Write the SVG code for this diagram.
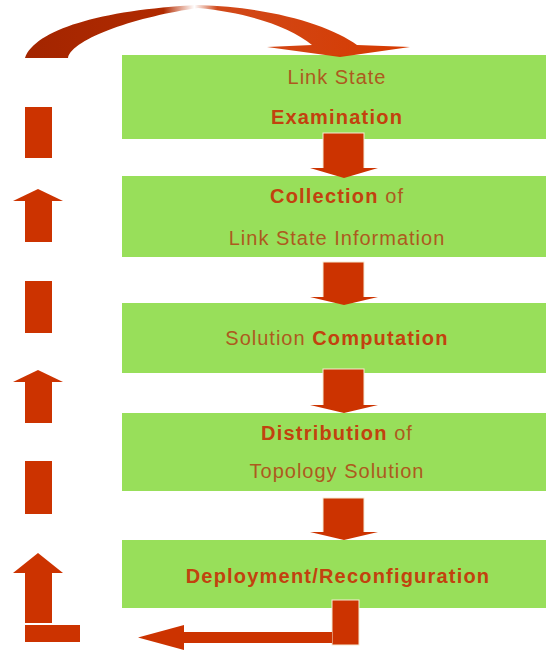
<svg xmlns="http://www.w3.org/2000/svg" width="546" height="651" viewBox="0 0 546 651">
  <defs>
    <linearGradient id="curveGrad" gradientUnits="userSpaceOnUse" x1="25" y1="0" x2="410" y2="0">
      <stop offset="0" stop-color="#a32500" stop-opacity="1"/>
      <stop offset="0.36" stop-color="#b02a00" stop-opacity="1"/>
      <stop offset="0.44" stop-color="#c03000" stop-opacity="0"/>
      <stop offset="0.5" stop-color="#cc3500" stop-opacity="0.9"/>
      <stop offset="1" stop-color="#d63a00" stop-opacity="1"/>
    </linearGradient>
    <style>
      .box { fill: #98df5a; }
      .arrow { fill: #cc3300; }
      .arrowEdge { fill: #cc3300; stroke: #f6ead2; stroke-width: 1; }
      .t { font-family: "Liberation Sans", Arial, sans-serif; font-size: 20px; fill: #ad5a1e; text-anchor: middle; letter-spacing: 1px; }
      .b { font-weight: bold; fill: #c2420e; letter-spacing: 1.2px; }
    </style>
  </defs>
  <rect x="0" y="0" width="546" height="651" fill="#ffffff"/>

  <g id="node-examination">
    <rect class="box" x="122" y="55" width="424" height="84"/>
    <text class="t" x="337" y="84">Link State</text>
    <text class="t b" x="337" y="124">Examination</text>
  </g>
  <g id="node-collection">
    <rect class="box" x="122" y="176" width="424" height="81"/>
    <text class="t" x="337" y="203"><tspan class="b">Collection</tspan> of</text>
    <text class="t" x="337" y="245">Link State Information</text>
  </g>
  <g id="node-computation">
    <rect class="box" x="122" y="303" width="424" height="70"/>
    <text class="t" x="337" y="345">Solution <tspan class="b">Computation</tspan></text>
  </g>
  <g id="node-distribution">
    <rect class="box" x="122" y="413" width="424" height="78"/>
    <text class="t" x="337" y="440"><tspan class="b">Distribution</tspan> of</text>
    <text class="t" x="337" y="478">Topology Solution</text>
  </g>
  <g id="node-deployment">
    <rect class="box" x="122" y="540" width="424" height="68"/>
    <text class="t b" x="338" y="583">Deployment/Reconfiguration</text>
  </g>

  <g id="connectors">
    <!-- down arrows between steps -->
    <rect class="arrowEdge" x="323" y="133" width="41" height="36"/>
    <polygon class="arrow" points="310,168 378,168 344,178"/>
    <rect class="arrowEdge" x="323" y="262" width="41" height="36"/>
    <polygon class="arrow" points="310,297 378,297 344,305"/>
    <rect class="arrowEdge" x="323" y="369" width="41" height="37"/>
    <polygon class="arrow" points="310,405 378,405 344,413"/>
    <rect class="arrowEdge" x="323" y="498" width="41" height="35"/>
    <polygon class="arrow" points="310,532 378,532 344,540"/>

    <!-- bent return arrow at the bottom -->
    <rect class="arrowEdge" x="332" y="600" width="27" height="45"/>
    <rect class="arrow" x="182" y="632" width="150" height="11"/>
    <polygon class="arrow" points="184,625 184,650 138,637.5"/>

    <!-- dashed upward return path on the left -->
    <rect class="arrow" x="25" y="625" width="55" height="17"/>
    <rect class="arrow" x="25" y="572" width="27" height="51"/>
    <polygon class="arrow" points="13,573 63,573 38,553"/>
    <rect class="arrow" x="25" y="461" width="27" height="53"/>
    <rect class="arrow" x="25" y="381" width="27" height="42"/>
    <polygon class="arrow" points="13,382 63,382 38,370"/>
    <rect class="arrow" x="25" y="281" width="27" height="52"/>
    <rect class="arrow" x="25" y="200" width="27" height="42"/>
    <polygon class="arrow" points="13,201 63,201 38,189"/>
    <rect class="arrow" x="25" y="107" width="27" height="51"/>

    <!-- curved arrow back to the first step -->
    <path fill="url(#curveGrad)" d="M 25,58 C 35,30 100,10 198,5 C 270,7 330,25 357,45 L 410,47 L 340,57 L 267,47 L 312,45 C 290,27 250,13 198,8 C 140,16 72,38 68,58 Z"/>
  </g>
</svg>
